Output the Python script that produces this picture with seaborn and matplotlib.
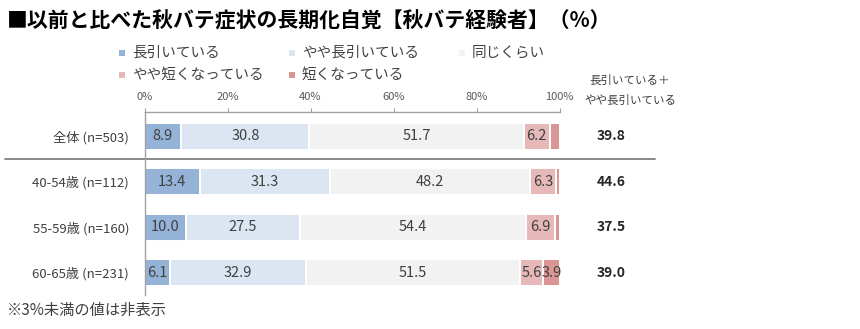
import matplotlib
matplotlib.use("Agg")
import matplotlib.pyplot as plt
from matplotlib.patches import Rectangle
import seaborn as sns
import pandas as pd
import numpy as np

sns.set_theme(style="white")
plt.rcParams['font.family'] = ['Noto Sans CJK JP', 'DejaVu Sans']

# ---- data ----
categories = ['全体 (n=503)', '40-54歳 (n=112)', '55-59歳 (n=160)', '60-65歳 (n=231)']
series_names = ['長引いている', 'やや長引いている', '同じくらい', 'やや短くなっている', '短くなっている']
long_ = [8.9, 13.4, 10.0, 6.1]
slightly_long = [30.8, 31.3, 27.5, 32.9]
same = [51.7, 48.2, 54.4, 51.5]
slightly_short = [6.2, 6.3, 6.9, 5.6]
short = [2.4, 0.8, 1.2, 3.9]
combined = [39.8, 44.6, 37.5, 39.0]
xticks = [0, 20, 40, 60, 80, 100]
xtick_labels = ['0%', '20%', '40%', '60%', '80%', '100%']

colors = ['#95B3D7', '#DCE6F2', '#F2F2F2', '#E6B9B8', '#DA9694']
series = [long_, slightly_long, same, slightly_short, short]

df = pd.DataFrame({'category': categories})
for name, vals in zip(series_names, series):
    df[name] = vals
cum = df[series_names].cumsum(axis=1)

W, H = 860, 329
fig = plt.figure(figsize=(W / 100, H / 100), dpi=100)
ax = fig.add_axes([144.5 / W, 1 - 295 / H, 415 / W, (295 - 112) / H])

# stacked bars drawn as cumulative layers, largest first
for i in reversed(range(len(series_names))):
    d = pd.DataFrame({'category': categories, 'value': cum[series_names[i]]})
    sns.barplot(data=d, x='value', y='category', orient='h', color=colors[i],
                saturation=1, width=0.593, edgecolor='white', linewidth=1.4,
                errorbar=None, ax=ax, order=categories)

# value labels (values under 3% hidden)
for j, cat in enumerate(categories):
    left = 0.0
    for i, vals in enumerate(series):
        v = vals[j]
        if v >= 3:
            ax.text(left + v / 2, j, f'{v:.1f}', ha='center', va='center',
                    fontsize=10.5, color='#404040')
        left += v

ax.set_xlim(0, 100)
ax.set_ylim(3.49, -0.527)
ax.set_xlabel('')
ax.set_ylabel('')
ax.xaxis.tick_top()
ax.set_xticks(xticks)
ax.set_xticklabels(xtick_labels)
ax.tick_params(axis='x', top=True, bottom=False, length=3, width=0.8,
               color='#A0A0A0', labelsize=8, labelcolor='#595959', pad=4, direction='out')
ax.tick_params(axis='y', length=0, labelsize=9.5, labelcolor='#404040', pad=11)
for s in ['right', 'bottom']:
    ax.spines[s].set_visible(False)
for s in ['top', 'left']:
    ax.spines[s].set_visible(True)
    ax.spines[s].set_color('#A0A0A0')
    ax.spines[s].set_linewidth(1.0)
ax.grid(False)

# separator line under "全体"
ax.axhline(0.5, xmin=(5 - 144.5) / 415, xmax=(655 - 144.5) / 415, color='#808080',
           linewidth=1.3, clip_on=False)

# combined column
trans = ax.get_yaxis_transform()
for j, v in enumerate(combined):
    ax.text((611 - 144.5) / 415, j, f'{v:.1f}', transform=trans, ha='center',
            va='center', fontsize=10, fontweight='bold', color='#262626')
fig.text(630 / W, 1 - 80 / H, '長引いている＋', ha='center', va='center',
         fontsize=8.3, color='#404040')
fig.text(630 / W, 1 - 100 / H, 'やや長引いている', ha='center', va='center',
         fontsize=8.3, color='#404040')

# title
fig.text(7 / W, 1 - 21 / H, '■以前と比べた秋バテ症状の長期化自覚【秋バテ経験者】（%）',
         ha='left', va='center', fontsize=15, fontweight='bold', color='#000000')

# legend (manual, row-major)
leg_pos = [(122, 53), (292, 53), (462, 53), (122, 75), (292, 75)]
for (lx, ly), name, c in zip(leg_pos, series_names, colors):
    fig.patches.append(Rectangle(((lx - 3) / W, 1 - (ly + 3) / H), 6 / W, 6 / H,
                                 transform=fig.transFigure, facecolor=c,
                                 edgecolor='none'))
    fig.text((lx + 10) / W, 1 - ly / H, name, ha='left', va='center',
             fontsize=10.5, color='#404040')

# footnote
fig.text(7 / W, 1 - 310 / H, '※3%未満の値は非表示', ha='left', va='center',
         fontsize=11, color='#404040')

fig.savefig('out.png', dpi=100)
